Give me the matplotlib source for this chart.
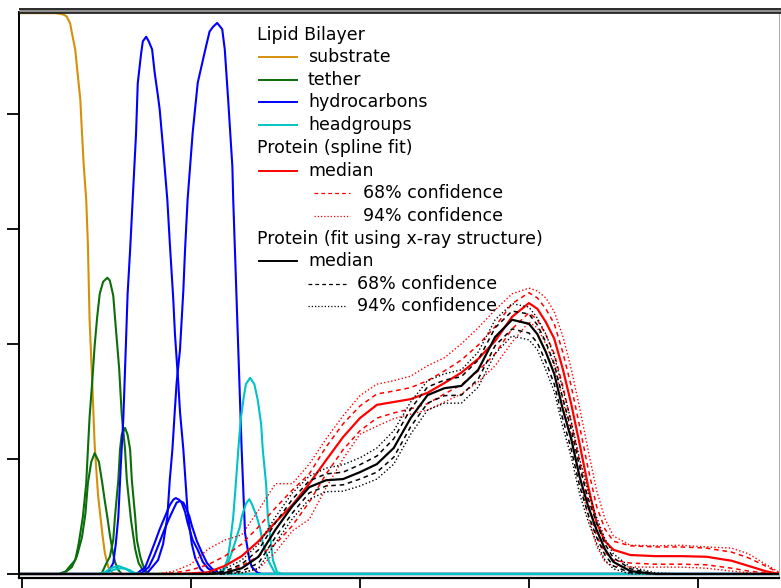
import matplotlib
matplotlib.use("Agg")
import matplotlib.pyplot as plt
from matplotlib.lines import Line2D

# distance from substrate (Angstrom) and component volume occupancy
x_sub = [-0.5, 2.1, 3.9, 4.5, 5.0, 5.3, 5.7, 5.9, 6.3, 6.5, 6.9, 7.1, 7.3, 7.6, 7.8, 8.0,
         8.3, 8.6, 9.0, 9.5, 9.8, 10.2, 10.7, 11.4, 89.6]
substrate = [0.975, 0.975, 0.975, 0.974, 0.972, 0.969, 0.957, 0.941, 0.912, 0.882, 0.825,
             0.767, 0.712, 0.651, 0.572, 0.442, 0.338, 0.224, 0.137, 0.071, 0.037, 0.012,
             0.002, 0.0, 0.0]

x_teth1 = [-0.5, 4.5, 5.1, 5.7, 6.3, 6.7, 7.2, 7.6, 7.8, 8.0, 8.3, 8.6, 8.9, 9.2, 9.6,
           10.1, 10.4, 10.8, 11.0, 11.5, 11.8, 12.2, 12.4, 12.9, 13.4, 13.8, 14.3, 14.9, 89.6]
teth1 = [0, 0, 0.003, 0.014, 0.024, 0.052, 0.099, 0.157, 0.216, 0.273, 0.332, 0.397, 0.447,
         0.487, 0.508, 0.515, 0.510, 0.484, 0.447, 0.357, 0.278, 0.216, 0.165, 0.094, 0.043,
         0.019, 0.007, 0, 0]
x_teth2 = [-0.5, 4.3, 4.7, 5.3, 5.9, 6.5, 7.1, 7.5, 7.8, 8.2, 8.6, 9.1, 9.5, 9.8, 10.1,
           10.4, 10.7, 11.0, 11.4, 11.8, 89.6]
teth2 = [0, 0, 0.002, 0.005, 0.012, 0.031, 0.064, 0.104, 0.158, 0.195, 0.210, 0.195, 0.158,
         0.127, 0.099, 0.068, 0.042, 0.021, 0.007, 0, 0]
x_teth3 = [-0.5, 9.2, 9.5, 9.9, 10.4, 10.8, 11.0, 11.4, 11.6, 11.8, 12.2, 12.5, 12.8, 13.0,
           13.4, 13.6, 14.0, 14.3, 14.8, 15.1, 89.6]
teth3 = [0, 0, 0.003, 0.016, 0.030, 0.059, 0.099, 0.163, 0.216, 0.242, 0.254, 0.242, 0.216,
         0.163, 0.099, 0.059, 0.030, 0.016, 0.003, 0, 0]

x_hc1 = [-0.5, 9.8, 10.2, 10.8, 11.1, 11.4, 11.7, 12.0, 12.3, 12.5, 12.8, 13.1, 13.5, 13.7,
         14.1, 14.3, 14.7, 15.0, 15.4, 15.7, 16.1, 16.3, 16.7, 17.2, 17.5, 17.9, 18.1, 18.5,
         18.7, 19.1, 19.6, 20.1, 20.5, 21.1, 21.7, 89.6]
hc1 = [0, 0, 0.003, 0.019, 0.052, 0.099, 0.191, 0.273, 0.400, 0.487, 0.564, 0.651, 0.766,
       0.853, 0.905, 0.926, 0.934, 0.926, 0.912, 0.872, 0.830, 0.807, 0.740, 0.651, 0.574,
       0.479, 0.418, 0.332, 0.282, 0.216, 0.108, 0.052, 0.028, 0.009, 0, 0]
x_hc2 = [-0.5, 14.6, 14.9, 16.1, 16.7, 17.2, 17.5, 17.8, 18.1, 18.3, 18.7, 19.1, 19.3, 19.6,
         20.2, 20.8, 21.7, 22.2, 22.6, 23.1, 23.7, 24.0, 24.4, 24.9, 25.0, 25.2, 25.6, 26.0,
         26.4, 26.9, 27.2, 27.9, 28.4, 89.6]
hc2 = [0, 0, 0.003, 0.024, 0.052, 0.099, 0.165, 0.216, 0.287, 0.332, 0.390, 0.494, 0.564,
       0.651, 0.767, 0.854, 0.912, 0.943, 0.951, 0.958, 0.947, 0.912, 0.825, 0.708, 0.651,
       0.564, 0.390, 0.216, 0.071, 0.026, 0.012, 0.002, 0, 0]
x_hc3 = [-0.5, 13.4, 13.7, 14.6, 15.1, 15.7, 16.3, 16.9, 17.5, 17.9, 18.2, 18.6, 18.9, 19.3,
         19.6, 20.2, 20.8, 21.4, 22.0, 22.8, 23.4, 89.6]
hc3 = [0, 0, 0.002, 0.012, 0.031, 0.054, 0.078, 0.099, 0.120, 0.129, 0.132, 0.129, 0.124,
       0.108, 0.089, 0.059, 0.042, 0.021, 0.010, 0.002, 0, 0]
x_hc4 = [-0.5, 13.8, 14.2, 15.0, 15.6, 16.2, 16.8, 17.4, 18.0, 18.3, 18.7, 19.1, 19.4, 19.8,
         20.1, 20.7, 21.3, 21.9, 22.5, 23.3, 23.9, 89.6]
hc4 = [0, 0, 0.002, 0.012, 0.030, 0.052, 0.075, 0.096, 0.115, 0.124, 0.127, 0.124, 0.115,
       0.101, 0.084, 0.057, 0.037, 0.019, 0.009, 0.002, 0, 0]

x_hg1 = [-0.5, 9.0, 9.8, 10.4, 10.9, 11.4, 11.8, 12.3, 12.9, 13.7, 89.6]
hg1 = [0, 0, 0.003, 0.009, 0.012, 0.014, 0.012, 0.009, 0.003, 0, 0]
x_hg2 = [-0.5, 9.4, 10.2, 10.8, 11.3, 11.7, 12.2, 12.7, 13.3, 14.0, 89.6]
hg2 = [0, 0, 0.002, 0.007, 0.009, 0.010, 0.009, 0.007, 0.002, 0, 0]
x_hg3 = [-0.5, 22.8, 23.4, 23.9, 24.3, 24.6, 25.0, 25.3, 25.6, 25.9, 26.2, 26.5, 27.0, 27.5,
         27.9, 28.3, 28.5, 28.9, 29.1, 29.5, 29.7, 30.2, 30.8, 89.6]
hg3 = [0, 0, 0.002, 0.010, 0.024, 0.050, 0.099, 0.155, 0.216, 0.270, 0.303, 0.330, 0.341,
       0.330, 0.303, 0.261, 0.216, 0.155, 0.099, 0.050, 0.024, 0.003, 0, 0]
x_hg4 = [-0.5, 22.8, 23.7, 24.4, 25.2, 25.8, 26.0, 26.5, 26.9, 27.2, 27.8, 28.2, 28.5, 29.3,
         29.9, 30.5, 89.6]
hg4 = [0, 0, 0.002, 0.019, 0.054, 0.083, 0.099, 0.122, 0.130, 0.122, 0.099, 0.078, 0.054,
       0.019, 0.003, 0, 0]

# protein profiles share one distance grid
x_prot = [-0.5, 16, 18, 20, 22, 24, 26, 28, 30, 32, 34, 36, 38, 40, 42, 44, 46, 48, 50, 52,
          54, 56, 58, 60, 61, 62, 63, 64, 65, 66, 67, 68, 69, 70, 72, 75, 78, 81, 84, 86, 88,
          89.6]
spl_med = [0, 0, 0, 0.001, 0.003, 0.014, 0.031, 0.057, 0.090, 0.120, 0.157, 0.198, 0.238,
           0.271, 0.294, 0.299, 0.304, 0.315, 0.332, 0.350, 0.374, 0.405, 0.447, 0.471, 0.461,
           0.438, 0.409, 0.357, 0.296, 0.226, 0.153, 0.090, 0.057, 0.042, 0.033, 0.031, 0.031,
           0.030, 0.023, 0.014, 0.005, 0]
spl_68_hi = [0, 0, 0.002, 0.007, 0.016, 0.031, 0.052, 0.082, 0.115, 0.146, 0.174, 0.221,
             0.261, 0.292, 0.313, 0.318, 0.324, 0.336, 0.353, 0.372, 0.398, 0.430, 0.470,
             0.489, 0.480, 0.461, 0.435, 0.386, 0.327, 0.257, 0.184, 0.118, 0.078, 0.057,
             0.049, 0.047, 0.047, 0.045, 0.038, 0.028, 0.014, 0.002]
spl_68_lo = [0, 0, 0, 0, 0, 0.003, 0.014, 0.031, 0.052, 0.084, 0.125, 0.174, 0.216, 0.249,
             0.271, 0.280, 0.287, 0.296, 0.313, 0.329, 0.353, 0.383, 0.426, 0.454, 0.442,
             0.416, 0.383, 0.327, 0.264, 0.195, 0.125, 0.066, 0.038, 0.024, 0.019, 0.017,
             0.017, 0.016, 0.010, 0.005, 0.002, 0]
spl_94_hi = [0, 0, 0.005, 0.017, 0.043, 0.059, 0.068, 0.111, 0.157, 0.157, 0.191, 0.235,
             0.275, 0.310, 0.330, 0.336, 0.344, 0.362, 0.376, 0.400, 0.428, 0.459, 0.487,
             0.497, 0.492, 0.480, 0.456, 0.414, 0.357, 0.289, 0.216, 0.146, 0.096, 0.066,
             0.050, 0.049, 0.050, 0.047, 0.045, 0.035, 0.017, 0.003]
spl_94_lo = [0, 0, 0, 0, 0, 0, 0.002, 0.009, 0.038, 0.075, 0.095, 0.150, 0.200, 0.243, 0.257,
             0.270, 0.278, 0.285, 0.299, 0.313, 0.334, 0.362, 0.403, 0.438, 0.428, 0.400,
             0.362, 0.304, 0.240, 0.167, 0.101, 0.049, 0.021, 0.014, 0.012, 0.012, 0.012,
             0.010, 0.005, 0.002, 0, 0]

xr_med = [0, 0, 0, 0, 0, 0.002, 0.010, 0.030, 0.077, 0.118, 0.151, 0.163, 0.165, 0.177,
          0.191, 0.219, 0.271, 0.311, 0.323, 0.327, 0.355, 0.412, 0.442, 0.435, 0.417, 0.386,
          0.348, 0.287, 0.235, 0.169, 0.118, 0.077, 0.043, 0.021, 0.005, 0, 0, 0, 0, 0, 0, 0]
xr_68_hi = [0, 0, 0, 0, 0, 0.005, 0.017, 0.042, 0.089, 0.130, 0.162, 0.174, 0.177, 0.190,
            0.205, 0.235, 0.287, 0.325, 0.337, 0.343, 0.372, 0.428, 0.457, 0.452, 0.433,
            0.403, 0.365, 0.306, 0.252, 0.186, 0.132, 0.089, 0.052, 0.028, 0.009, 0, 0, 0, 0,
            0, 0, 0]
xr_68_lo = [0, 0, 0, 0, 0, 0, 0.005, 0.019, 0.064, 0.106, 0.141, 0.153, 0.155, 0.165, 0.177,
            0.203, 0.256, 0.297, 0.310, 0.311, 0.339, 0.397, 0.426, 0.419, 0.402, 0.369,
            0.330, 0.270, 0.217, 0.153, 0.104, 0.064, 0.033, 0.014, 0.002, 0, 0, 0, 0, 0, 0, 0]
xr_94_hi = [0, 0, 0, 0, 0.002, 0.009, 0.024, 0.052, 0.099, 0.141, 0.170, 0.184, 0.190, 0.202,
            0.219, 0.249, 0.299, 0.336, 0.348, 0.355, 0.386, 0.442, 0.470, 0.464, 0.445,
            0.417, 0.379, 0.322, 0.266, 0.200, 0.144, 0.099, 0.061, 0.035, 0.012, 0.002, 0, 0,
            0, 0, 0, 0]
xr_94_lo = [0, 0, 0, 0, 0, 0, 0.002, 0.010, 0.054, 0.096, 0.130, 0.143, 0.144, 0.153, 0.165,
            0.191, 0.243, 0.285, 0.297, 0.297, 0.325, 0.383, 0.414, 0.407, 0.390, 0.355,
            0.317, 0.256, 0.204, 0.139, 0.092, 0.054, 0.024, 0.009, 0, 0, 0, 0, 0, 0, 0, 0]

C_SUB = "#d4900a"
C_TETH = "#0b6e0b"
C_HC = "#0000ff"
C_HG = "#00c4c4"
C_RED = "#ff0000"
DASH = (0, (3, 2.5))
DOT = (0, (1.0, 1.6))

W, H = 781, 588
fig = plt.figure(figsize=(W / 100, H / 100), dpi=100)
ax = fig.add_axes([19 / W, 12 / H, 760 / W, 564 / H])

lw = 1.5
ax.plot(x_sub, substrate, color=C_SUB, lw=lw)
for xx, yy in [(x_teth1, teth1), (x_teth2, teth2), (x_teth3, teth3)]:
    ax.plot(xx, yy, color=C_TETH, lw=lw)
for xx, yy in [(x_hc1, hc1), (x_hc2, hc2), (x_hc3, hc3), (x_hc4, hc4)]:
    ax.plot(xx, yy, color=C_HC, lw=lw)
for xx, yy in [(x_hg1, hg1), (x_hg2, hg2), (x_hg3, hg3), (x_hg4, hg4)]:
    ax.plot(xx, yy, color=C_HG, lw=lw)

for yy in (spl_94_hi, spl_94_lo):
    ax.plot(x_prot, yy, color=C_RED, lw=1.0, ls=DOT)
for yy in (spl_68_hi, spl_68_lo):
    ax.plot(x_prot, yy, color=C_RED, lw=1.1, ls=DASH)
ax.plot(x_prot, spl_med, color=C_RED, lw=1.6)

for yy in (xr_94_hi, xr_94_lo):
    ax.plot(x_prot, yy, color="black", lw=1.0, ls=DOT)
for yy in (xr_68_hi, xr_68_lo):
    ax.plot(x_prot, yy, color="black", lw=1.1, ls=DASH)
ax.plot(x_prot, xr_med, color="black", lw=1.6)

ax.set_xlim(-0.355, 89.6)
ax.set_ylim(-0.0035, 0.977)
ax.set_xticks([0, 20, 40, 60, 80])
ax.set_yticks([0, 0.2, 0.4, 0.6, 0.8])
ax.set_xticklabels([])
ax.set_yticklabels([])
ax.tick_params(direction="out", length=8.5, width=1.3, color="black")
ax.tick_params(axis="x", length=8)
ax.spines["left"].set_linewidth(1.4)
ax.spines["bottom"].set_linewidth(1.6)
ax.spines["bottom"].set_position(("outward", 1.5))
ax.spines["right"].set_color("#b0b0b0")
ax.spines["right"].set_linewidth(0.8)
ax.spines["top"].set_visible(False)


def fxy(px, py):
    return px / W, 1 - py / H


def deco_line(px0, px1, py, **kw):
    x0, y0 = fxy(px0, py)
    x1, _ = fxy(px1, py)
    fig.add_artist(Line2D([x0, x1], [y0, y0], transform=fig.transFigure, **kw))


# shaded top frame
deco_line(19, 781, 11, color="#8f8f8f", lw=2.4, solid_capstyle="butt")
deco_line(19, 781, 8.6, color="#1a1a1a", lw=1.3, solid_capstyle="butt")
deco_line(19, 781, 13.3, color="#1a1a1a", lw=1.2, solid_capstyle="butt")

# legend
FS = 12.5


def leg_text(px, py, s):
    x, y = fxy(px, py)
    fig.text(x, y, s, fontsize=FS, va="center", ha="left", color="black")


leg_text(257, 35, "Lipid Bilayer")
for py, c, s in [(57, C_SUB, "substrate"), (80, C_TETH, "tether"),
                 (102, C_HC, "hydrocarbons"), (125, C_HG, "headgroups")]:
    deco_line(259, 297, py, color=c, lw=1.4)
    leg_text(308, py, s)

leg_text(257, 148, "Protein (spline fit)")
deco_line(259, 297, 171, color=C_RED, lw=1.4)
leg_text(308, 171, "median")
deco_line(314, 350, 193, color=C_RED, lw=0.9, ls=DASH)
leg_text(363, 193, "68% confidence")
deco_line(314, 350, 216, color=C_RED, lw=0.9, ls=DOT)
leg_text(363, 216, "94% confidence")

leg_text(257, 239, "Protein (fit using x-ray structure)")
deco_line(259, 297, 261, color="black", lw=1.4)
leg_text(308, 261, "median")
deco_line(308, 346, 284, color="black", lw=0.9, ls=DASH)
leg_text(357, 284, "68% confidence")
deco_line(308, 346, 306, color="black", lw=0.9, ls=DOT)
leg_text(357, 306, "94% confidence")

fig.savefig("out.png", dpi=100)
